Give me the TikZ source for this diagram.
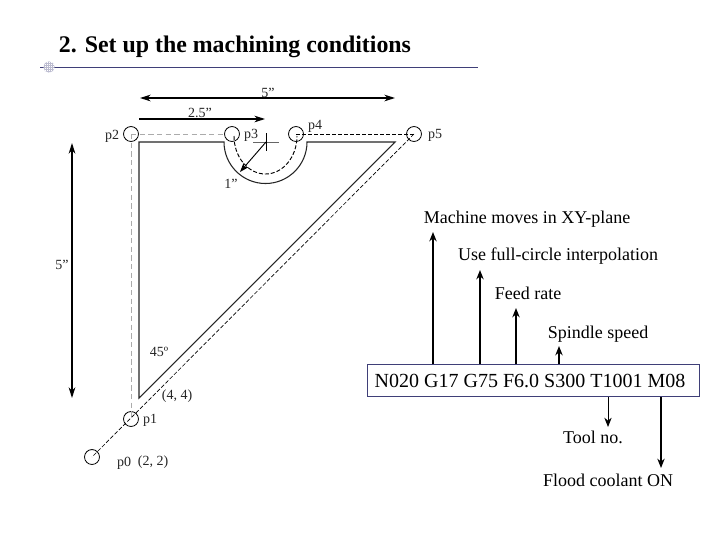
\documentclass[tikz,border=0pt]{standalone}
\usepackage{fontspec}
\setmainfont{Liberation Serif}
\usetikzlibrary{arrows.meta}
\definecolor{rulec}{HTML}{3F3F78}
\definecolor{dashg}{HTML}{ABABAB}
\tikzset{
  x=0.75pt,y=-0.75pt,
  pt/.style={draw,circle,inner sep=0pt,minimum size=11.2pt,line width=0.6pt},
  dim/.style={inner sep=0pt,font=\fontsize{10.5pt}{12pt}\selectfont,text=black!85},
  note/.style={inner sep=0pt,font=\fontsize{13.5pt}{15pt}\selectfont},
  outline/.style={line width=0.8pt,black!85},
  arr/.style={line width=1.1pt,-{Stealth[length=7pt,width=5.5pt]}},
  arrs/.style={line width=0.75pt,-{Stealth[length=7pt,width=5.5pt]}},
  darr/.style={line width=0.9pt,{Stealth[length=8pt,width=5pt]}-{Stealth[length=8pt,width=5pt]}},
  gd/.style={dash pattern=on 4pt off 2.5pt,dashg,line width=0.75pt},
  kd/.style={dash pattern=on 3pt off 1.5pt,black,line width=0.5pt},
}
\begin{document}
\begin{tikzpicture}
\useasboundingbox[fill=white] (0,0) rectangle (720,540);
% title
\node[inner sep=0pt,font=\bfseries\fontsize{17.9pt}{20pt}\selectfont] (title) at (235,47) {2. Set up the machining conditions};
\coordinate (ruleL) at (40,67); \coordinate (ruleR) at (478,67);
\draw[rulec,line width=0.6pt] (ruleL) -- (ruleR);
\node[circle,inner sep=0pt,minimum size=8.5pt,fill=rulec!35] (bullet) at (49,67) {};
\begin{scope}
\clip (49,67) circle[radius=5.7];
\foreach \yy in {62,64,...,72}{\draw[white,line width=0.5pt,dash pattern=on 0.7pt off 0.8pt] (43,\yy) -- (55,\yy);}
\end{scope}
% points
\node[pt] (p2) at (131,134) {};
\node[pt] (p3) at (232,134) {};
\node[pt] (p4) at (296,134) {};
\node[pt] (p5) at (414,134) {};
\node[pt] (p1) at (131,419) {};
\node[pt] (p0) at (92,457) {};
% part outline
\draw[outline] (139,142) -- (224,142) arc[start angle=180,end angle=0,radius=41.5] -- (395,142) -- (139,398) -- cycle;
% tool path
\draw[gd] (p2.center) -- (p3.west);
\draw[gd] (p2.center) -- (p1.center);
\draw[kd,line width=0.6pt] (p4.center) -- (p5.center);
\draw[kd] (p5.center) -- (p0.center);
\draw[kd,line width=0.7pt] (234,136) arc[start angle=180,end angle=0,x radius=31.5,y radius=38];
% centre mark
\coordinate (cc) at (266,142);
\coordinate (ccL) at (253,142); \coordinate (ccR) at (279,142);
\coordinate (ccT) at (266,133); \coordinate (ccB) at (266,151);
\coordinate (rt) at (240,172);
\draw[line width=0.5pt,black!60] (ccL) -- (ccR);
\draw[line width=0.6pt] (ccT) -- (ccB);
\draw[line width=0.7pt,-{Stealth[length=7pt,width=5pt]}] (cc) -- (rt);
% dimensions
\coordinate (dA) at (140,98); \coordinate (dB) at (395,98);
\coordinate (eA) at (139,119); \coordinate (eB) at (265,119);
\coordinate (fA) at (72,143); \coordinate (fB) at (72,398);
\draw[darr] (dA) -- (dB);
\draw[line width=0.8pt,-{Stealth[length=8pt,width=5pt]}] (eA) -- (eB);
\draw[darr] (fA) -- (fB);
% drawing labels
\node[dim] (l5a) at (268,93) {5”};
\node[dim] (l25) at (200,113) {2.5”};
\node[dim] (l5b) at (62,265) {5”};
\node[dim] (lp2) at (112,136) {p2};
\node[dim] (lp3) at (251,135) {p3};
\node[dim] (lp4) at (315,126) {p4};
\node[dim] (lp5) at (435,135) {p5};
\node[dim] (l1) at (231,184) {1”};
\node[dim] (l45) at (159,352) {45º};
\node[dim] (l44) at (177,396) {(4, 4)};
\node[dim] (lp1) at (150,420) {p1};
\node[dim] (lp0) at (124,463) {p0};
\node[dim] (l22) at (153,462) {(2, 2)};
% code block
\node[draw=rulec,line width=0.7pt,minimum width=249pt,minimum height=24.5pt,inner sep=0pt] (code) at (533,380.5) {};
\node[inner sep=0pt,font=\fontsize{15pt}{17pt}\selectfont] (codetext) at (530,381) {N020 G17 G75 F6.0 S300 T1001 M08};
% annotations
\node[note] (mach) at (527,219) {Machine moves in XY-plane};
\node[note] (use) at (558,256) {Use full-circle interpolation};
\node[note] (feed) at (528,293) {Feed rate};
\node[note] (spin) at (598,334.5) {Spindle speed};
\node[note] (tool) at (593,437) {Tool no.};
\node[note] (flood) at (608,480) {Flood coolant ON};
\coordinate (a1) at (433,364); \coordinate (a1e) at (433,232);
\coordinate (a2) at (480,364); \coordinate (a2e) at (480,270);
\coordinate (a3) at (516,364); \coordinate (a3e) at (516,308);
\coordinate (a4) at (559,364); \coordinate (a4e) at (559,346);
\coordinate (a5) at (608,397); \coordinate (a5e) at (608,427);
\coordinate (a6) at (661,397); \coordinate (a6e) at (661,468);
\draw[arr] (a1) -- (a1e);
\draw[arr] (a2) -- (a2e);
\draw[arr] (a3) -- (a3e);
\draw[arr] (a4) -- (a4e);
\draw[arrs] (a5) -- (a5e);
\draw[arr] (a6) -- (a6e);
\end{tikzpicture}
\end{document}
